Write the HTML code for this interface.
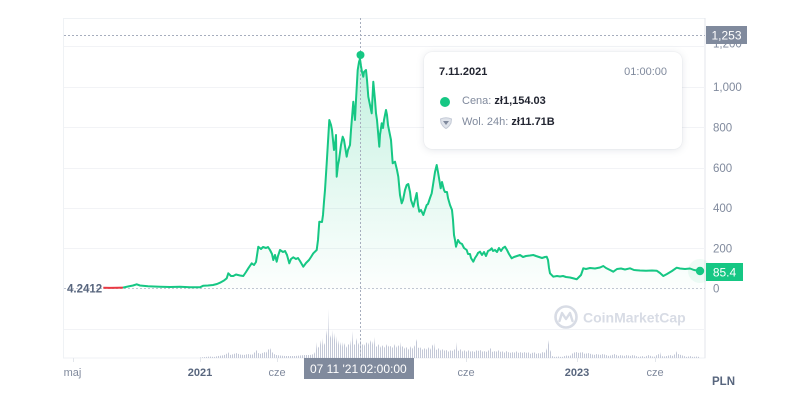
<!DOCTYPE html>
<html><head><meta charset="utf-8"><style>
html,body{margin:0;padding:0;background:#fff;}
#wrap{position:relative;width:800px;height:400px;overflow:hidden;font-family:"Liberation Sans",Arial,sans-serif;}
svg{position:absolute;left:0;top:0;}
.tt{position:absolute;left:424px;top:52px;width:258px;height:97px;background:#fff;border-radius:8px;box-shadow:0 1px 8px rgba(88,102,126,0.16),0 0 1px rgba(88,102,126,0.2);}
.tt .d{position:absolute;left:15px;top:14px;font-size:11px;font-weight:bold;color:#222531;}
.tt .t{position:absolute;right:15px;top:14px;font-size:11px;color:#808a9d;}
.tt .r{position:absolute;left:38px;font-size:11px;color:#808a9d;}
.tt .r b{color:#222531;}
.tt .dot{position:absolute;left:16px;top:45px;width:10px;height:10px;border-radius:50%;background:#16c784;}
</style></head><body><div id="wrap">
<svg width="800" height="400" viewBox="0 0 800 400" xmlns="http://www.w3.org/2000/svg">
<defs>
<linearGradient id="g" gradientUnits="userSpaceOnUse" x1="0" y1="60" x2="0" y2="292">
<stop offset="0" stop-color="#16c784" stop-opacity="0.26"/>
<stop offset="0.6" stop-color="#16c784" stop-opacity="0.1"/>
<stop offset="1" stop-color="#16c784" stop-opacity="0.01"/>
</linearGradient>
<pattern id="vb" width="2" height="60" patternUnits="userSpaceOnUse">
<rect x="0" y="0" width="1" height="60" fill="#c3c8d7"/>
</pattern>
</defs>
<!-- frame -->
<rect x="63.5" y="18.5" width="641.5" height="339.5" fill="none" stroke="#eff2f5" stroke-width="1"/>
<line x1="705" y1="18" x2="705" y2="358" stroke="#e3e6eb" stroke-width="1"/>
<!-- gridlines -->
<g stroke="#f2f3f6" stroke-width="1">
<line x1="64" y1="46.5" x2="705" y2="46.5"/>
<line x1="64" y1="87.5" x2="705" y2="87.5"/>
<line x1="64" y1="127.5" x2="705" y2="127.5"/>
<line x1="64" y1="168.5" x2="705" y2="168.5"/>
<line x1="64" y1="208.5" x2="705" y2="208.5"/>
<line x1="64" y1="248.5" x2="705" y2="248.5"/>
<line x1="64" y1="329.5" x2="705" y2="329.5"/>
</g>
<!-- dotted lines -->
<line x1="64" y1="35.5" x2="705" y2="35.5" stroke="#a6adbd" stroke-width="1" stroke-dasharray="2,2"/>
<line x1="64" y1="288.5" x2="705" y2="288.5" stroke="#c2c7d3" stroke-width="1" stroke-dasharray="2,2"/>
<!-- watermark -->
<circle cx="566" cy="317" r="10.5" fill="none" stroke="#d8dce5" stroke-width="2.6"/>
<path d="M559.5,321 L562,313 L566,319 L570,313 L572.5,321" fill="none" stroke="#d8dce5" stroke-width="2.4" stroke-linejoin="round" stroke-linecap="round"/>
<text x="583" y="322.5" font-size="14" font-weight="bold" fill="#d8dce5" font-family="Liberation Sans,Arial,sans-serif">CoinMarketCap</text>
<!-- volume -->
<polygon fill="url(#vb)" points="200,357.5 205,357 210,356.5 214,357 218,356 222,355.5 226,354.5 228,352 230,355 234,354 236,353 240,354.5 244,355 248,354 252,355 255,352 257,350 258,353 261,354 264,352 266,353 268,350 270,348 272,352 274,354 276,355 280,355.5 285,356 290,356 295,356 300,355.5 305,355 310,355 314,354 316,350 317,342 318,348 320,345 321,340 322,346 323,338 324,345 325,343 326,336 327,330 328,340 329,309 330,338 331,335 332,330 333,340 334,333 335,340 336,336 337,344 338,340 339,345 340,342 341,346 342,342 343,347 344,343 346,348 348,344 350,346 351,340 352,331 353,343 355,345 357,338 358,345 360,340 362,344 364,346 366,342 368,345 370,340 372,345 374,337 375,345 377,347 379,344 381,348 383,345 385,348 387,344 389,347 391,346 393,348 395,344 397,348 399,345 400,342 401,348 403,346 405,349 407,347 409,350 411,346 413,349 415,345 417,339 418,348 420,347 422,350 424,348 426,350 428,347 430,350 432,346 434,343 435,349 437,350 439,348 441,351 443,349 445,351 447,350 449,352 451,350 453,351 455,349 456,342 457,350 459,351 461,349 463,352 465,350 467,352 469,350 471,352 473,351 475,352 477,350 479,351 481,350 483,352 485,351 487,352 489,350 491,348 492,352 494,351 496,352 498,350 500,352 502,351 504,353 506,351 508,352 510,353 512,352 514,353 516,351 518,353 520,352 522,353 524,352 526,353 528,352 530,354 532,353 534,352 536,354 538,353 540,354 542,352 544,353 546,351 548,345 549,340 550,350 551,352 552,356 555,357 558,356.5 562,357 566,355.5 570,356 573,353 576,352 579,353 582,352 585,354 588,353 591,354 594,355 597,354 600,355 603,354 606,355 609,356 612,355 615,354 618,356 621,355 624,356 627,355 630,356 633,355 636,356 639,357 642,356 645,357 648,355 651,356 654,357 657,355 659,354 660,352 661,356 664,356.5 667,356 670,355 673,356 676,353 677,351 678,354 681,355 684,356 687,357 690,356 693,357 696,356.5 700,357 700,358 200,358"/>
<!-- area -->
<path fill="url(#g)" d="M103.3,287.7 L123,287.6 L128,286.5 L133,285.5 L136.7,284.3 L140,285.5 L148,286.3 L160,286.7 L170,287 L180,286.8 L190,287.2 L200,287.3 L203.3,285.7 L208,285.5 L213,285 L217,284 L220,282.7 L224,280.5 L226.7,278.3 L228.3,273.3 L231,276 L233.3,276 L236,274.5 L240,275.5 L243.3,276 L246,272 L248.3,268.3 L251.7,263.3 L254,265 L256,262 L258.3,246.7 L261,249 L263,247 L266,248 L268,247 L270,250 L272,254 L273.3,260 L275,255 L276.7,261.7 L278,256 L280,250 L283,252 L285,251 L287,255 L289.3,263.3 L291,259 L293.3,257.3 L296,259 L298,258 L300,261 L303.3,266.7 L306,263 L309,260 L311,257 L313.3,253.3 L316.7,250 L318,240 L319.3,221.7 L322,222 L323,215 L324,201.7 L325,190 L326.7,163.3 L327.5,150 L329.3,120 L331,125 L332,130 L334,150 L335,145 L336,135 L336.7,176.7 L338,165 L339,160 L341,145 L342.7,136.7 L344,140 L346.7,156.7 L348,150 L350,145 L351,130 L353.3,101.7 L354,110 L355,120 L356,100 L357.7,70 L359,62 L360,59 L361,66 L362,72 L363.3,76.7 L364,72 L366,70 L367,80 L368.3,96.7 L370,105 L371.7,113.3 L373.3,81.7 L375,100 L376,113.3 L377,120 L379.3,146.7 L380,135 L381.7,123.3 L383,128 L384,120 L386,110 L387,115 L388,125 L390,135 L391,140 L392.7,163.3 L395,161.7 L397,170 L398.3,176.7 L400,195 L401.7,203.3 L403,200 L405,190 L406.7,185 L408.3,184 L410,192 L411,200 L413.3,206.7 L415,200 L416.7,193 L418,205 L419.3,211.7 L421,210 L423.3,215 L425,210 L426.7,205 L428,204 L430,198 L431.7,193.3 L433,185 L435,172 L436.7,165 L438,172 L440.7,188.3 L442,182 L444,190 L445,192 L447,192 L448,198 L450,205 L452,210 L453,220 L454,235 L455,240 L456,246.7 L458,240 L460,243 L462,244 L464,248 L466.7,250 L468,254 L470,254 L471,258 L473.3,261.7 L475,258 L477,255 L478,253 L480,251.7 L482,255 L484,252 L486,256 L488,251 L490,250 L491.7,248.3 L493,251 L495,250 L497,252 L499,248 L501,251 L503,248 L505,246.7 L507,250 L509,254 L511.7,258.3 L514,257 L517,256 L520,255 L523,257 L526,256 L530,255.5 L533.3,255 L536,256 L539,257 L542,258 L545,257 L546.7,256.7 L548,260 L549,268 L550,273.3 L553.3,276.7 L557,276 L560,276.5 L563,276 L566,277 L570,277.5 L574,278.5 L576.7,279.3 L579,277 L581,275 L583.3,268.3 L586,269 L590,268 L595,268.5 L600,267.5 L603.3,266 L606,268 L610,270 L613.3,271.7 L617,269 L621,268.5 L625,269.5 L630,268.3 L634,270 L640,270.5 L646,270.7 L652,270.5 L656.7,270.7 L660,273 L663.3,276 L667,274 L672,271 L676.7,267.7 L680,268.5 L685,269 L690,268.5 L694,270 L697,270.5 L700,271 L700,290 L103.3,290 Z"/>
<!-- crosshair -->
<line x1="360.5" y1="18" x2="360.5" y2="358" stroke="#a6adbd" stroke-width="1" stroke-dasharray="2,2"/>
<!-- red start -->
<path d="M103.3,287.7 L110,287.9 L118,287.7 L123,287.6" fill="none" stroke="#ea3943" stroke-width="2"/>
<!-- line -->
<path fill="none" stroke="#16c784" stroke-width="2" stroke-linejoin="round" d="M123,287.6 L128,286.5 L133,285.5 L136.7,284.3 L140,285.5 L148,286.3 L160,286.7 L170,287 L180,286.8 L190,287.2 L200,287.3 L203.3,285.7 L208,285.5 L213,285 L217,284 L220,282.7 L224,280.5 L226.7,278.3 L228.3,273.3 L231,276 L233.3,276 L236,274.5 L240,275.5 L243.3,276 L246,272 L248.3,268.3 L251.7,263.3 L254,265 L256,262 L258.3,246.7 L261,249 L263,247 L266,248 L268,247 L270,250 L272,254 L273.3,260 L275,255 L276.7,261.7 L278,256 L280,250 L283,252 L285,251 L287,255 L289.3,263.3 L291,259 L293.3,257.3 L296,259 L298,258 L300,261 L303.3,266.7 L306,263 L309,260 L311,257 L313.3,253.3 L316.7,250 L318,240 L319.3,221.7 L322,222 L323,215 L324,201.7 L325,190 L326.7,163.3 L327.5,150 L329.3,120 L331,125 L332,130 L334,150 L335,145 L336,135 L336.7,176.7 L338,165 L339,160 L341,145 L342.7,136.7 L344,140 L346.7,156.7 L348,150 L350,145 L351,130 L353.3,101.7 L354,110 L355,120 L356,100 L357.7,70 L359,62 L360,59 L361,66 L362,72 L363.3,76.7 L364,72 L366,70 L367,80 L368.3,96.7 L370,105 L371.7,113.3 L373.3,81.7 L375,100 L376,113.3 L377,120 L379.3,146.7 L380,135 L381.7,123.3 L383,128 L384,120 L386,110 L387,115 L388,125 L390,135 L391,140 L392.7,163.3 L395,161.7 L397,170 L398.3,176.7 L400,195 L401.7,203.3 L403,200 L405,190 L406.7,185 L408.3,184 L410,192 L411,200 L413.3,206.7 L415,200 L416.7,193 L418,205 L419.3,211.7 L421,210 L423.3,215 L425,210 L426.7,205 L428,204 L430,198 L431.7,193.3 L433,185 L435,172 L436.7,165 L438,172 L440.7,188.3 L442,182 L444,190 L445,192 L447,192 L448,198 L450,205 L452,210 L453,220 L454,235 L455,240 L456,246.7 L458,240 L460,243 L462,244 L464,248 L466.7,250 L468,254 L470,254 L471,258 L473.3,261.7 L475,258 L477,255 L478,253 L480,251.7 L482,255 L484,252 L486,256 L488,251 L490,250 L491.7,248.3 L493,251 L495,250 L497,252 L499,248 L501,251 L503,248 L505,246.7 L507,250 L509,254 L511.7,258.3 L514,257 L517,256 L520,255 L523,257 L526,256 L530,255.5 L533.3,255 L536,256 L539,257 L542,258 L545,257 L546.7,256.7 L548,260 L549,268 L550,273.3 L553.3,276.7 L557,276 L560,276.5 L563,276 L566,277 L570,277.5 L574,278.5 L576.7,279.3 L579,277 L581,275 L583.3,268.3 L586,269 L590,268 L595,268.5 L600,267.5 L603.3,266 L606,268 L610,270 L613.3,271.7 L617,269 L621,268.5 L625,269.5 L630,268.3 L634,270 L640,270.5 L646,270.7 L652,270.5 L656.7,270.7 L660,273 L663.3,276 L667,274 L672,271 L676.7,267.7 L680,268.5 L685,269 L690,268.5 L694,270 L697,270.5 L700,271"/>
<!-- dots -->
<circle cx="360.5" cy="55" r="4" fill="#16c784"/>
<circle cx="700" cy="271" r="12" fill="#16c784" fill-opacity="0.07"/>
<circle cx="700" cy="271" r="4.2" fill="#16c784"/>
<!-- left label -->
<text x="67" y="292.5" font-size="11.5" font-weight="bold" fill="#58667e">4.2412</text>
<!-- y axis labels -->
<g font-size="11.5" fill="#808a9d">
<text x="713" y="47.5">1,200</text>
<text x="713" y="91">1,000</text>
<text x="713" y="131.5">800</text>
<text x="713" y="172">600</text>
<text x="713" y="212">400</text>
<text x="713" y="252.5">200</text>
<text x="713" y="292.5">0</text>
</g>
<rect x="706" y="26" width="41" height="18" fill="#808a9d"/>
<text x="726.5" y="39.5" font-size="12" fill="#fff" text-anchor="middle">1,253</text>
<rect x="706" y="263" width="37" height="18" fill="#16c784"/>
<text x="724.5" y="276.5" font-size="12" fill="#fff" text-anchor="middle">85.4</text>
<!-- x ticks -->
<g stroke="#e3e6eb" stroke-width="1">
<line x1="73.5" y1="358" x2="73.5" y2="362"/>
<line x1="200.5" y1="358" x2="200.5" y2="362"/>
<line x1="277.5" y1="358" x2="277.5" y2="362"/>
<line x1="466.5" y1="358" x2="466.5" y2="362"/>
<line x1="577.5" y1="358" x2="577.5" y2="362"/>
<line x1="655.5" y1="358" x2="655.5" y2="362"/>
</g>
<!-- x labels -->
<g font-size="11" fill="#808a9d" text-anchor="middle">
<text x="72.5" y="376">maj</text>
<text x="200" y="376" font-weight="bold" fill="#58667e">2021</text>
<text x="277" y="376">cze</text>
<text x="466" y="376">cze</text>
<text x="577" y="376" font-weight="bold" fill="#58667e">2023</text>
<text x="655" y="376">cze</text>
</g>
<text x="712" y="385" font-size="11.5" font-weight="bold" fill="#58667e">PLN</text>
<!-- x crosshair label -->
<rect x="304" y="358" width="110" height="21" fill="#808a9d"/>
<text x="310" y="373" font-size="12" fill="#fff">07 11 '21</text>
<text x="360" y="373" font-size="12" fill="#fff">02:00:00</text>
</svg>
<div class="tt">
<div class="d">7.11.2021</div>
<div class="t">01:00:00</div>
<div class="dot"></div>
<div class="r" style="top:43px">Cena: <b>zł1,154.03</b></div>
<svg style="left:15px;top:64px" width="14" height="14" viewBox="0 0 14 14"><path d="M1.5,3 Q7,0.5 12.5,3 L12,7 Q10,11 7,12.5 Q4,11 2,7 Z" fill="#dfe3ea" stroke="#c4cad6" stroke-width="1"/><path d="M4,5 L10,5 L7,9 Z" fill="#808a9d"/></svg>
<div class="r" style="top:64px">Wol. 24h: <b>zł11.71B</b></div>
</div>
</div></body></html>
